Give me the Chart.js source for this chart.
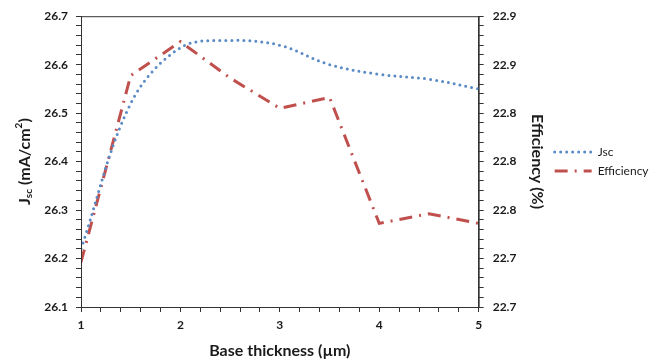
<!DOCTYPE html>
<html>
<head>
<meta charset="utf-8">
<script src="https://cdn.jsdelivr.net/npm/chart.js@4/dist/chart.umd.min.js"></script>
<style>
  html, body { margin: 0; padding: 0; background: #fff; }
  #wrap { width: 667px; height: 363px; }
</style>
</head>
<body>
<div id="wrap"><canvas id="myChart" width="667" height="363"></canvas></div>
<script>
// data
var thickness = [1, 1.5, 2, 2.5, 3, 3.5, 4, 4.5, 5]
var jsc = [26.22, 26.52, 26.635, 26.65, 26.64, 26.60, 26.58, 26.57, 26.55]
var efficiency = [22.717, 22.871, 22.899, 22.869, 22.844, 22.853, 22.749, 22.757, 22.749]
var seriesNames = ['Jsc', 'Efficiency']

var tickFont = { family: 'Lato', size: 12, weight: 'bold' }
var titleFont = { family: 'Lato', size: 16, weight: 'bold' }
var ink = '#1a1a1a'

function pts(ys) {
  return thickness.map(function (x, i) { return { x: x, y: ys[i] } })
}
function near(v, step) {
  return Math.abs(v / step - Math.round(v / step)) < 1e-6
}

// box around the plot, legend line samples, left title with sub/superscript
var frame = {
  id: 'frame',
  afterDraw: function (chart) {
    var c = chart.ctx, a = chart.chartArea
    c.save()
    c.strokeStyle = '#333'
    c.lineWidth = 1
    c.strokeRect(a.left + 0.5, a.top + 0.5, a.right - a.left, a.bottom - a.top)

    // legend samples, drawn with the dataset's own line style
    var lg = chart.legend
    lg.legendHitBoxes.forEach(function (hb, i) {
      var ds = chart.data.datasets[i]
      var y = hb.top + hb.height / 2
      c.beginPath()
      c.setLineDash(ds.borderDash || [])
      c.lineCap = ds.borderCapStyle || 'butt'
      c.strokeStyle = ds.borderColor
      c.lineWidth = ds.borderWidth
      c.moveTo(hb.left + 1, y)
      c.lineTo(hb.left + 38, y)
      c.stroke()
    })
    c.setLineDash([])

    // J_sc (mA/cm^2)
    var parts = [
      { t: 'J', size: 16, dy: 0 },
      { t: 'sc', size: 10, dy: 4 },
      { t: ' (mA/cm', size: 16, dy: 0 },
      { t: '2', size: 10, dy: -6 },
      { t: ')', size: 16, dy: 0 }
    ]
    var w = 0
    parts.forEach(function (p) {
      c.font = 'bold ' + p.size + 'px Lato'
      p.w = c.measureText(p.t).width
      w += p.w
    })
    c.translate(25, (a.top + a.bottom) / 2)
    c.rotate(-Math.PI / 2)
    c.fillStyle = ink
    c.textBaseline = 'middle'
    var x = -w / 2
    parts.forEach(function (p) {
      c.font = 'bold ' + p.size + 'px Lato'
      c.fillText(p.t, x, p.dy)
      x += p.w
    })
    c.restore()
  }
}

var ctx = document.getElementById('myChart').getContext('2d')
var chart = new Chart(ctx, {
  type: 'line',
  data: {
    datasets: [
      {
        label: seriesNames[0],
        data: pts(jsc),
        yAxisID: 'y',
        borderColor: '#5a8ac6',
        backgroundColor: '#5a8ac6',
        borderWidth: 3,
        borderDash: [0, 6],
        borderCapStyle: 'round',
        tension: 0.35,
        pointRadius: 0,
        fill: false
      },
      {
        label: seriesNames[1],
        data: pts(efficiency),
        yAxisID: 'y2',
        borderColor: '#c0504d',
        backgroundColor: '#c0504d',
        borderWidth: 3,
        borderDash: [13, 7, 2, 7],
        tension: 0,
        pointRadius: 0,
        fill: false
      }
    ]
  },
  options: {
    responsive: false,
    animation: false,
    layout: { padding: { left: 0, top: 15, right: 11, bottom: 0 } },
    plugins: {
      tooltip: { enabled: false },
      legend: {
        position: 'right',
        fullSize: false,
        labels: {
          boxWidth: 38,
          boxHeight: 3,
          padding: 7,
          color: ink,
          font: { family: 'Lato', size: 12, lineHeight: 1.667 },
          generateLabels: function (chart) {
            return chart.data.datasets.map(function (ds, i) {
              return {
                text: ds.label,
                datasetIndex: i,
                fillStyle: 'rgba(0,0,0,0)',
                strokeStyle: 'rgba(0,0,0,0)',
                lineWidth: 0,
                fontColor: ink
              }
            })
          }
        }
      }
    },
    scales: {
      x: {
        type: 'linear',
        min: 1,
        max: 5,
        border: { color: '#333' },
        grid: { drawOnChartArea: false, color: '#333', tickLength: 5 },
        ticks: {
          stepSize: 0.2,
          autoSkip: false,
          maxRotation: 0,
          padding: 6,
          color: ink,
          font: tickFont,
          callback: function (v) { return near(v, 1) ? String(Math.round(v)) : '' }
        },
        title: { display: true, text: 'Base thickness (µm)', color: ink, font: titleFont, padding: { top: 0, bottom: 3 } },
        afterFit: function (s) { s.height = 56 }
      },
      y: {
        position: 'left',
        min: 26.1,
        max: 26.7,
        border: { color: '#333' },
        grid: { drawOnChartArea: false, color: '#333', tickLength: 5 },
        ticks: {
          stepSize: 0.02,
          autoSkip: false,
          padding: 8,
          color: ink,
          font: tickFont,
          callback: function (v) { return near(v, 0.1) ? v.toFixed(1) : '' }
        },
        afterFit: function (s) { s.width = 81 }
      },
      y2: {
        position: 'right',
        min: 22.68,
        max: 22.92,
        border: { color: '#333' },
        grid: { drawOnChartArea: false, color: '#333', tickLength: 5 },
        ticks: {
          stepSize: 0.008,
          autoSkip: false,
          padding: 9,
          color: ink,
          font: tickFont,
          callback: function (v) { return near(v - 22.68, 0.04) ? v.toFixed(1) : '' }
        },
        title: { display: true, text: 'Efficiency (%)', color: ink, font: titleFont, padding: 0 },
        afterFit: function (s) { s.width = 68 }
      }
    }
  },
  plugins: [frame]
})
</script>
</body>
</html>
